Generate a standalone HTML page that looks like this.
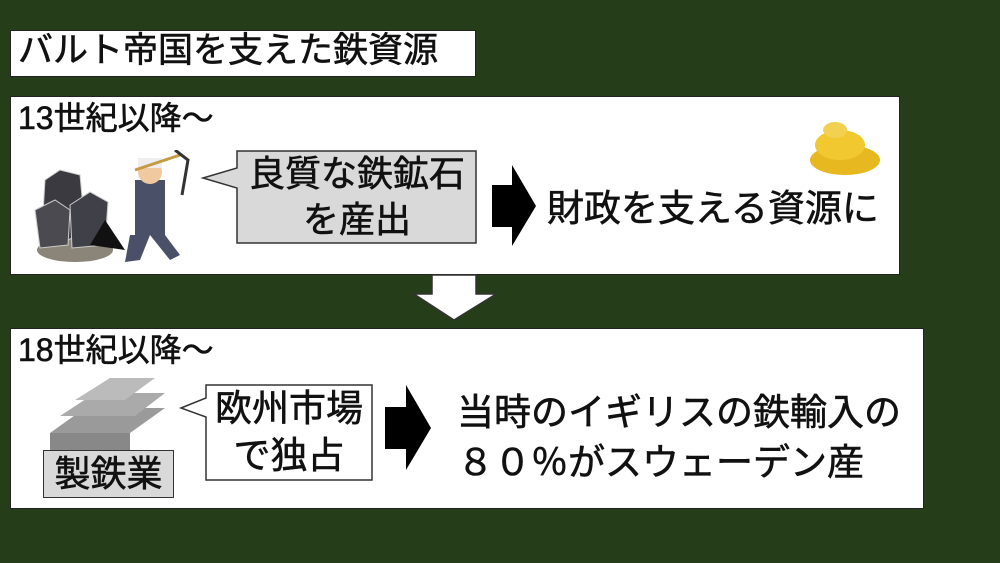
<!DOCTYPE html>
<html><head><meta charset="utf-8"><style>
body{margin:0;width:1000px;height:563px;background:#263d1a;position:relative;overflow:hidden;font-family:"Liberation Sans","Noto Sans CJK JP",sans-serif;color:#111}
.a{position:absolute;-webkit-text-stroke:0.6px #111}
svg.a{-webkit-text-stroke:0}
.box{position:absolute;background:#fff;border:1px solid #222}
</style></head><body>
<div class="box" style="left:10px;top:30px;width:464px;height:45px"></div>
<div class="a" style="left:18px;top:30px;font-size:35px;line-height:42px;white-space:nowrap">バルト帝国を支えた鉄資源</div>

<div class="box" style="left:10px;top:96px;width:888px;height:177px"></div>
<div class="a" style="left:18px;top:98px;font-size:32px;line-height:40px;white-space:nowrap">13世紀以降～</div>
<svg class="a" style="left:30px;top:150px" width="160" height="120">
<ellipse cx="45" cy="100" rx="38" ry="12" fill="#8a8578"/>
<polygon points="15,30 30,20 50,25 55,80 30,95 12,80" fill="#3a3a40" stroke="#ccc" stroke-width="1"/>
<polygon points="5,60 25,50 40,60 38,95 10,98" fill="#4a4a50" stroke="#ccc"/>
<polygon points="40,55 60,42 78,52 75,95 42,98" fill="#404048" stroke="#ccc"/>
<polygon points="60,95 75,70 95,100" fill="#111"/>
<rect x="105" y="30" width="30" height="55" fill="#4a5068"/>
<circle cx="120" cy="22" r="12" fill="#f1c9a0"/>
<rect x="108" y="8" width="24" height="10" fill="#eee"/>
<line x1="105" y1="20" x2="150" y2="5" stroke="#c59a40" stroke-width="3"/>
<path d="M145,0 L158,10 L152,45" stroke="#333" stroke-width="3" fill="none"/>
<polygon points="100,85 120,85 110,110 95,112" fill="#4a5068"/>
<polygon points="120,85 135,85 150,105 140,110" fill="#4a5068"/>
</svg>
<svg class="a" style="left:800px;top:100px" width="90" height="80">
<ellipse cx="45" cy="60" rx="35" ry="15" fill="#e8b820"/>
<ellipse cx="40" cy="45" rx="25" ry="15" fill="#f2c830"/>
<ellipse cx="35" cy="30" rx="12" ry="8" fill="#f2d050"/>
</svg>
<svg class="a" style="left:200px;top:150px" width="280" height="96">
<polygon points="37,1 276,1 276,93 37,93 37,38 3,28 37,18" fill="#d9d9d9" stroke="#333" stroke-width="1.5"/>
</svg>
<div class="a" style="left:238px;top:151px;width:238px;text-align:center;font-size:36px;line-height:46px">良質な鉄鉱石<br>を産出</div>
<svg class="a" style="left:492px;top:165px" width="45" height="82"><polygon points="0,20 20,20 20,0 44,41 20,81 20,62 0,62" fill="#000"/></svg>
<div class="a" style="left:547px;top:186px;font-size:37px;line-height:46px;white-space:nowrap">財政を支える資源に</div>

<svg class="a" style="left:412px;top:274px" width="86" height="48"><polygon points="20,1 64,1 64,20 84,20 42,46 2,20 20,20" fill="#fff" stroke="#333" stroke-width="1.5"/></svg>

<div class="box" style="left:10px;top:328px;width:912px;height:179px"></div>
<div class="a" style="left:18px;top:330px;font-size:32px;line-height:40px;white-space:nowrap">18世紀以降～</div>
<svg class="a" style="left:45px;top:378px" width="130" height="75">
<polygon points="5,55 40,30 120,30 85,55" fill="#9a9a9a"/>
<polygon points="15,38 50,15 120,15 90,38" fill="#aaa"/>
<polygon points="30,22 65,0 110,0 80,22" fill="#bbb"/>
<rect x="5" y="55" width="80" height="18" fill="#888"/>
</svg>
<div class="a" style="left:43px;top:450px;width:129px;height:46px;background:#d9d9d9;border:1px solid #333;font-size:36px;line-height:46px;text-align:center">製鉄業</div>
<svg class="a" style="left:178px;top:384px" width="196" height="98">
<polygon points="28,1 194,1 194,96 28,96 28,33 3,24 28,14" fill="#fff" stroke="#333" stroke-width="1.5"/>
</svg>
<div class="a" style="left:206px;top:385px;width:166px;text-align:center;font-size:37px;line-height:47px;white-space:nowrap">欧州市場<br>で独占</div>
<svg class="a" style="left:385px;top:385px" width="47" height="86"><polygon points="0,22 21,22 21,0 46,43 21,85 21,64 0,64" fill="#000"/></svg>
<div class="a" style="left:457px;top:388px;font-size:37px;line-height:50px;white-space:nowrap">当時のイギリスの鉄輸入の<br>８０％がスウェーデン産</div>
</body></html>
